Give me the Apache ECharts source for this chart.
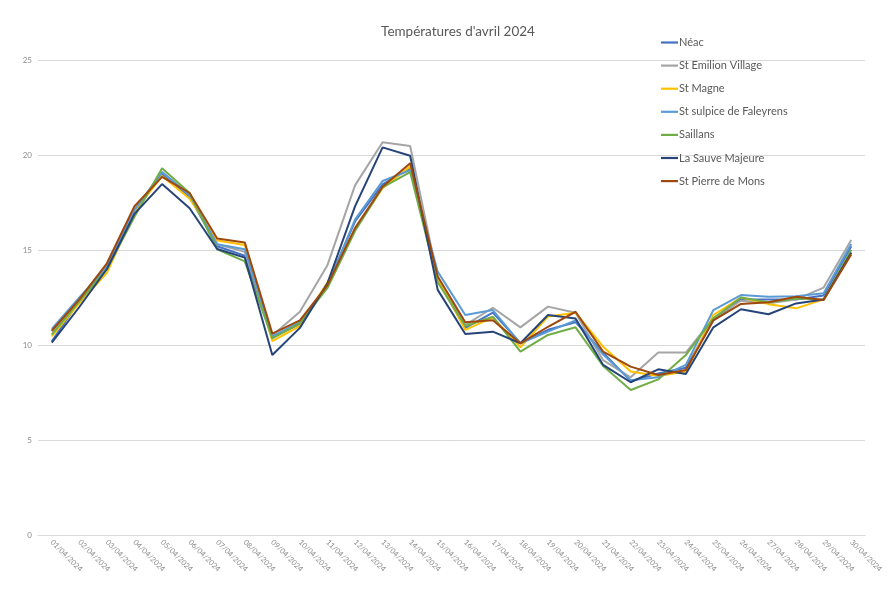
<!DOCTYPE html>
<html>
<head>
<meta charset="utf-8">
<script src="https://cdn.jsdelivr.net/npm/echarts@6/dist/echarts.min.js"></script>
<style>html,body{margin:0;padding:0;background:#fff;}#c{width:893px;height:596px;}</style>
</head>
<body>
<div id="c"></div>
<script>
const categories = ["01/04/2024","02/04/2024","03/04/2024","04/04/2024","05/04/2024","06/04/2024","07/04/2024","08/04/2024","09/04/2024","10/04/2024","11/04/2024","12/04/2024","13/04/2024","14/04/2024","15/04/2024","16/04/2024","17/04/2024","18/04/2024","19/04/2024","20/04/2024","21/04/2024","22/04/2024","23/04/2024","24/04/2024","25/04/2024","26/04/2024","27/04/2024","28/04/2024","29/04/2024","30/04/2024"];
const seriesNames = ["Néac","St Emilion Village","St Magne","St sulpice de Faleyrens","Saillans","La Sauve Majeure","St Pierre de Mons"];
const neac      = [10.2,12.3,14.1,17.0,19.0,17.8,15.2,14.7,10.4,11.1,13.2,16.5,18.45,19.3,13.4,10.9,11.7,10.1,10.8,11.2,9.6,8.1,8.5,8.8,11.3,12.4,12.4,12.4,12.6,15.2];
const emilion   = [10.7,12.4,14.2,17.1,19.1,17.9,15.3,14.9,10.5,11.75,14.2,18.4,20.67,20.47,13.5,11.05,11.96,10.93,12.02,11.7,9.2,8.3,9.6,9.6,11.4,12.33,12.2,12.4,13.02,15.53];
const magne     = [10.45,12.2,13.8,17.0,18.9,17.7,15.5,15.26,10.2,11.0,13.3,16.1,18.25,19.4,13.5,10.8,11.45,9.88,11.5,11.7,9.91,8.6,8.37,8.6,11.58,12.5,12.15,11.93,12.4,14.9];
const sulpice   = [10.85,12.5,14.1,17.1,19.1,17.9,15.3,15.04,10.45,11.2,13.1,16.6,18.63,19.2,13.86,11.58,11.84,10.09,10.7,11.3,9.5,8.15,8.3,8.95,11.84,12.63,12.54,12.57,12.72,15.32];
const saillans  = [10.55,12.3,14.0,16.75,19.3,18.0,15.04,14.4,10.35,11.15,13.0,16.0,18.3,19.1,13.3,11.0,11.49,9.65,10.53,10.93,8.9,7.63,8.19,9.47,11.4,12.5,12.25,12.45,12.4,15.0];
const sauve     = [10.12,12.0,14.0,16.9,18.47,17.2,15.05,14.6,9.47,10.9,13.25,17.3,20.4,19.96,12.9,10.58,10.7,10.09,11.58,11.4,8.95,8.04,8.72,8.47,10.93,11.88,11.62,12.19,12.4,14.85];
const pierre    = [10.75,12.4,14.3,17.3,18.85,18.0,15.6,15.4,10.6,11.3,13.15,16.15,18.33,19.56,13.6,11.2,11.3,10.09,10.96,11.75,9.65,8.86,8.42,8.68,11.3,12.16,12.25,12.54,12.37,14.77];
const yTicks = [0,5,10,15,20,25];

const colors = ["#4472C4","#A5A5A5","#FFC000","#5B9BD5","#70AD47","#264478","#9E480E"];
const datasets = [neac, emilion, magne, sulpice, saillans, sauve, pierre];

const chart = echarts.init(document.getElementById('c'), null, {renderer:'canvas'});
chart.setOption({
  animation:false,
  backgroundColor:'#ffffff',
  title:{
    text:"Températures d'avril 2024",
    left:453, top:20, textAlign:'center',
    textStyle:{fontFamily:'Lato', fontSize:13.5, fontWeight:'normal', color:'#595959'}
  },
  legend:{
    orient:'vertical', left:656, top:32,
    icon:'rect', itemWidth:17, itemHeight:2.2, itemGap:12.1,
    data:seriesNames,
    textStyle:{fontFamily:'Lato', fontSize:11, color:'#595959', padding:[0,0,0,-4]}
  },
  grid:{left:38, right:28, top:60, bottom:61, containLabel:false},
  xAxis:{
    type:'category', data:categories, boundaryGap:true,
    axisLine:{show:true, lineStyle:{color:'#d9d9d9', width:1}},
    axisTick:{show:false},
    axisLabel:{rotate:-45, fontSize:7.5, color:'#8c8c8c', fontFamily:'Lato', margin:6, interval:0}
  },
  yAxis:{
    type:'value', min:yTicks[0], max:yTicks[yTicks.length-1], interval:5,
    axisLine:{show:false}, axisTick:{show:false},
    axisLabel:{fontSize:8, color:'#8c8c8c', fontFamily:'Lato', margin:6},
    splitLine:{lineStyle:{color:'#d9d9d9', width:1}}
  },
  series: seriesNames.map((n,i)=>({
    name:n, type:'line', data:datasets[i], symbol:'none', showSymbol:false,
    lineStyle:{width:2, color:colors[i]}, itemStyle:{color:colors[i]}, z:2
  }))
});
</script>
</body>
</html>
